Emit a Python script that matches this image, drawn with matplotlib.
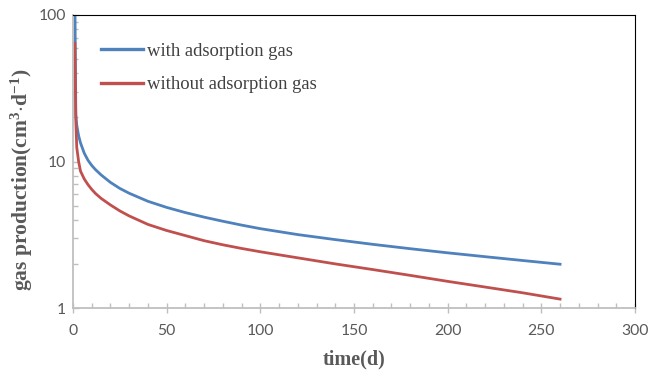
import numpy as np
import matplotlib
matplotlib.use("Agg")
import matplotlib.pyplot as plt
from matplotlib.ticker import MultipleLocator, LogLocator, FixedLocator, NullFormatter

plt.rcParams['mathtext.fontset'] = 'custom'
plt.rcParams['mathtext.rm'] = 'Liberation Serif:bold'
plt.rcParams['mathtext.bf'] = 'Liberation Serif:bold'
plt.rcParams['mathtext.default'] = 'bf'

# production time (days)
time_d = [1, 1.5, 2, 3, 4, 6, 8, 10, 12, 15, 20, 25, 30, 40, 50, 60, 70, 80,
          90, 100, 120, 140, 160, 180, 200, 220, 240, 260]

# gas rate with adsorbed gas included
with_ads = [130, 21, 17.7, 15.0, 13.4, 11.4, 10.2, 9.4, 8.8, 8.1, 7.2, 6.55,
            6.07, 5.35, 4.86, 4.48, 4.17, 3.91, 3.68, 3.48, 3.17, 2.93, 2.72,
            2.54, 2.38, 2.24, 2.11, 1.99]

# gas rate from free gas only
without_ads = [64, 19, 12.5, 10.0, 8.6, 7.6, 6.95, 6.45, 6.05, 5.6, 5.05, 4.6,
               4.25, 3.72, 3.38, 3.12, 2.88, 2.7, 2.55, 2.42, 2.2, 2.0, 1.83,
               1.67, 1.52, 1.39, 1.27, 1.15]

series_labels = ['with adsorption gas', 'without adsorption gas']
x_ticks = [0, 50, 100, 150, 200, 250, 300]
y_ticks = [1, 10, 100]

fig = plt.figure(figsize=(6.65, 3.72), dpi=100)
ax = fig.add_axes([73 / 665, 1 - 308 / 372, 562 / 665, 293 / 372])

ax.plot(time_d, with_ads, color='#4F81BD', lw=2.0, label=series_labels[0])
ax.plot(time_d, without_ads, color='#C0504D', lw=2.0, label=series_labels[1])

ax.set_yscale('log')
ax.set_xlim(0, 300)
ax.set_ylim(1, 100)

ax.xaxis.set_major_locator(FixedLocator(x_ticks))
ax.xaxis.set_minor_locator(MultipleLocator(10))
ax.yaxis.set_major_locator(FixedLocator(y_ticks))
ax.yaxis.set_minor_locator(LogLocator(base=10, subs=np.arange(2, 10)))
ax.yaxis.set_minor_formatter(NullFormatter())
ax.set_yticklabels([str(v) for v in y_ticks])
ax.set_xticklabels([str(v) for v in x_ticks])

for lab in ax.get_xticklabels() + ax.get_yticklabels():
    lab.set_fontfamily('Lato')
    lab.set_fontsize(11.3)
    lab.set_color('#595959')

ax.tick_params(axis='x', which='major', direction='inout', length=7,
               width=1, color='#BFBFBF', pad=8)
ax.tick_params(axis='x', which='minor', direction='in', length=3.5,
               width=1, color='#BFBFBF')
ax.tick_params(axis='y', which='major', direction='in', length=4,
               width=1, color='#BFBFBF', pad=5)
ax.tick_params(axis='y', which='minor', direction='in', length=3.5,
               width=1, color='#BFBFBF')

for side in ['left', 'bottom']:
    ax.spines[side].set_color('#BFBFBF')
    ax.spines[side].set_linewidth(1.3)
for side in ['top', 'right']:
    ax.spines[side].set_color('black')
    ax.spines[side].set_linewidth(0.8)

ax.set_xlabel('time(d)', family='Liberation Serif', fontweight='bold',
              fontsize=14.5, color='#595959', labelpad=8)
ax.set_ylabel(r'gas production(cm$^{3}$$\cdot$d$^{-1}$)', family='Liberation Serif',
              fontweight='bold', fontsize=15.5, color='#595959')
ax.yaxis.set_label_coords(-0.068, 0.437)

leg = ax.legend(loc='upper left', bbox_to_anchor=(0.05, 0.905), frameon=False,
                borderpad=0, borderaxespad=0, handlelength=2.26,
                handletextpad=0.2, labelspacing=0.88,
                prop=dict(family='Liberation Serif', size=13.4))
for txt in leg.get_texts():
    txt.set_color('#404040')
for line in leg.get_lines():
    line.set_linewidth(2.4)

fig.savefig('out.png', dpi=100)
